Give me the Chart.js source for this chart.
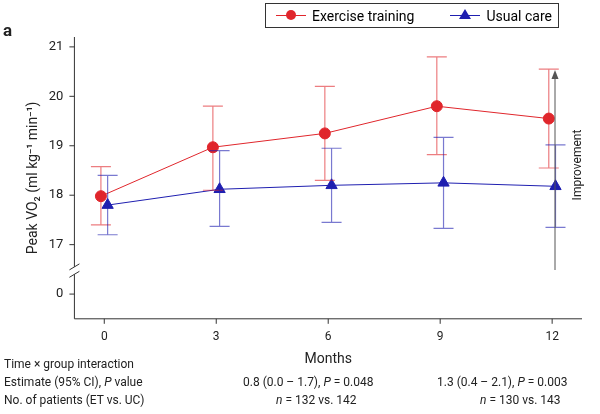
<!DOCTYPE html>
<html><head><meta charset="utf-8">
<script src="https://cdn.jsdelivr.net/npm/chart.js@4"></script>
<style>
body{margin:0;width:600px;height:414px;position:relative;font-family:Roboto,"Liberation Sans",sans-serif;background:#fff;overflow:hidden}
#c{position:absolute;left:0;top:0}
.t{position:absolute;font-size:12px;color:#222;white-space:nowrap}
#leg{position:absolute;left:265px;top:3px;width:294px;height:25px;border:1px solid #333;box-sizing:border-box;font-size:14px;display:flex;align-items:center;gap:6px;padding-left:10px}
.dot{display:inline-block;width:10px;height:10px;border-radius:50%;background:#e0262c;vertical-align:middle}
.tri{display:inline-block;width:0;height:0;border-left:6px solid transparent;border-right:6px solid transparent;border-bottom:10px solid #1f1fb0;vertical-align:middle}
.ln{display:inline-block;width:30px;height:1.5px;position:relative;vertical-align:middle}
.ln span{position:absolute;left:10px;top:-5px}
</style></head><body>
<canvas id="c" width="600" height="414"></canvas>
<div class="t" style="left:3px;top:20px;font-size:17px;font-weight:bold">a</div>
<div id="leg"><span class="ln" style="background:#e0262c"><span class="dot"></span></span>Exercise training<span style="width:24px"></span><span class="ln" style="background:#1f1fb0"><span class="tri" style="top:-6px;position:absolute;left:9px"></span></span>Usual care</div>
<div class="t" style="left:4px;top:357px">Time × group interaction</div>
<div class="t" style="left:4px;top:375px">Estimate (95% CI), <i>P</i> value</div>
<div class="t" style="left:4px;top:393px">No. of patients (ET vs. UC)</div>
<div class="t" style="left:243px;top:375px">0.8 (0.0 – 1.7), <i>P</i> = 0.048</div>
<div class="t" style="left:276px;top:393px"><i>n</i> = 132 vs. 142</div>
<div class="t" style="left:437px;top:375px">1.3 (0.4 – 2.1), <i>P</i> = 0.003</div>
<div class="t" style="left:480px;top:393px"><i>n</i> = 130 vs. 143</div>
<script>
const months=[0,3,6,9,12];
const etMean=[17.98,18.97,19.25,19.8,19.55];
const etLo=[17.4,18.1,18.3,18.82,18.55];
const etHi=[18.58,19.8,20.2,20.8,20.55];
const ucMean=[17.8,18.12,18.2,18.25,18.18];
const ucLo=[17.2,17.37,17.45,17.33,17.35];
const ucHi=[18.4,18.9,18.95,19.17,19.02];
const yTicks=[16,17,18,19,20,21];
const yTickLabels={16:'0',17:'17',18:'18',19:'19',20:'20',21:'21'};
const RED='#e0262c',BLUE='#1f1fb0';
const off=0.09;
const errPlugin={id:'err',afterDatasetsDraw(ch){
 const c=ch.ctx,x=ch.scales.x,y=ch.scales.y;
 const draw=(m,lo,hi,col,o)=>{c.save();c.strokeStyle=col;c.globalAlpha=0.6;c.lineWidth=1.2;
  m.forEach((mm,i)=>{const px=x.getPixelForValue(mm+o),a=y.getPixelForValue(lo[i]),b=y.getPixelForValue(hi[i]);
   c.beginPath();c.moveTo(px,a);c.lineTo(px,b);c.moveTo(px-10,a);c.lineTo(px+10,a);c.moveTo(px-10,b);c.lineTo(px+10,b);c.stroke();});c.restore();};
 draw(months,etLo,etHi,RED,-off);draw(months,ucLo,ucHi,BLUE,off);
 c.save();c.strokeStyle='#333';c.lineWidth=1;
 const L=ch.chartArea.left,B=ch.chartArea.bottom,T=y.getPixelForValue(21.2),R=ch.chartArea.right;
 const b1=y.getPixelForValue(16.55),b2=y.getPixelForValue(16.4);
 c.beginPath();c.moveTo(L,T);c.lineTo(L,b1);c.moveTo(L,b2);c.lineTo(L,B);c.lineTo(R,B);c.stroke();
 c.beginPath();c.moveTo(L-5,b1+3);c.lineTo(L+5,b1-3);c.moveTo(L-5,b2+3);c.lineTo(L+5,b2-3);c.stroke();
 c.strokeStyle='#555';c.fillStyle='#555';const ax=555;
 c.beginPath();c.moveTo(ax,270);c.lineTo(ax,76);c.stroke();
 c.beginPath();c.moveTo(ax,70);c.lineTo(ax-3.5,79);c.lineTo(ax+3.5,79);c.closePath();c.fill();
 c.translate(578,165);c.rotate(-Math.PI/2);c.fillStyle='#222';c.font='12px Roboto';c.textAlign='center';c.textBaseline='middle';c.fillText('Improvement',0,0);
 c.restore();}};
new Chart(document.getElementById('c'),{type:'scatter',
 data:{datasets:[
  {data:months.map((m,i)=>({x:m-off,y:etMean[i]})),showLine:true,borderColor:RED,backgroundColor:RED,borderWidth:1,pointRadius:5.5,pointStyle:'circle'},
  {data:months.map((m,i)=>({x:m+off,y:ucMean[i]})),showLine:true,borderColor:BLUE,backgroundColor:BLUE,borderWidth:1,pointRadius:6.5,pointStyle:'triangle'}]},
 options:{responsive:false,animation:false,layout:{padding:{left:21,right:18,top:37,bottom:42}},
  plugins:{legend:{display:false},tooltip:{enabled:false}},
  scales:{x:{min:-0.8,max:12.8,border:{display:false},grid:{display:false,drawTicks:true},afterBuildTicks(s){s.ticks=months.map(v=>({value:v}));},
     ticks:{color:'#222',font:{size:12,family:'Roboto'},callback:v=>String(v)},title:{display:true,text:'Months',color:'#222',font:{size:14,family:'Roboto'},padding:{top:4}}},
   y:{min:15.5,max:21.2,border:{display:false},grid:{display:false},afterBuildTicks(s){s.ticks=yTicks.map(v=>({value:v}));},
     ticks:{color:'#222',font:{size:13,family:'Roboto'},callback:v=>yTickLabels[v]},
     title:{display:true,text:'Peak VO\u2082 (ml kg\u207B\u00B9 min\u207B\u00B9)',color:'#222',font:{size:14,family:'Roboto'}}}}},
 plugins:[errPlugin,{id:'tk',afterDraw(ch){const c=ch.ctx,x=ch.scales.x,y=ch.scales.y,L=ch.chartArea.left,B=ch.chartArea.bottom;c.save();c.strokeStyle='#333';c.beginPath();
  yTicks.forEach(v=>{const p=y.getPixelForValue(v);c.moveTo(L-5,p);c.lineTo(L,p);});months.forEach(v=>{const p=x.getPixelForValue(v);c.moveTo(p,B);c.lineTo(p,B+5);});c.stroke();c.restore();}}]
});
</script></body></html>
